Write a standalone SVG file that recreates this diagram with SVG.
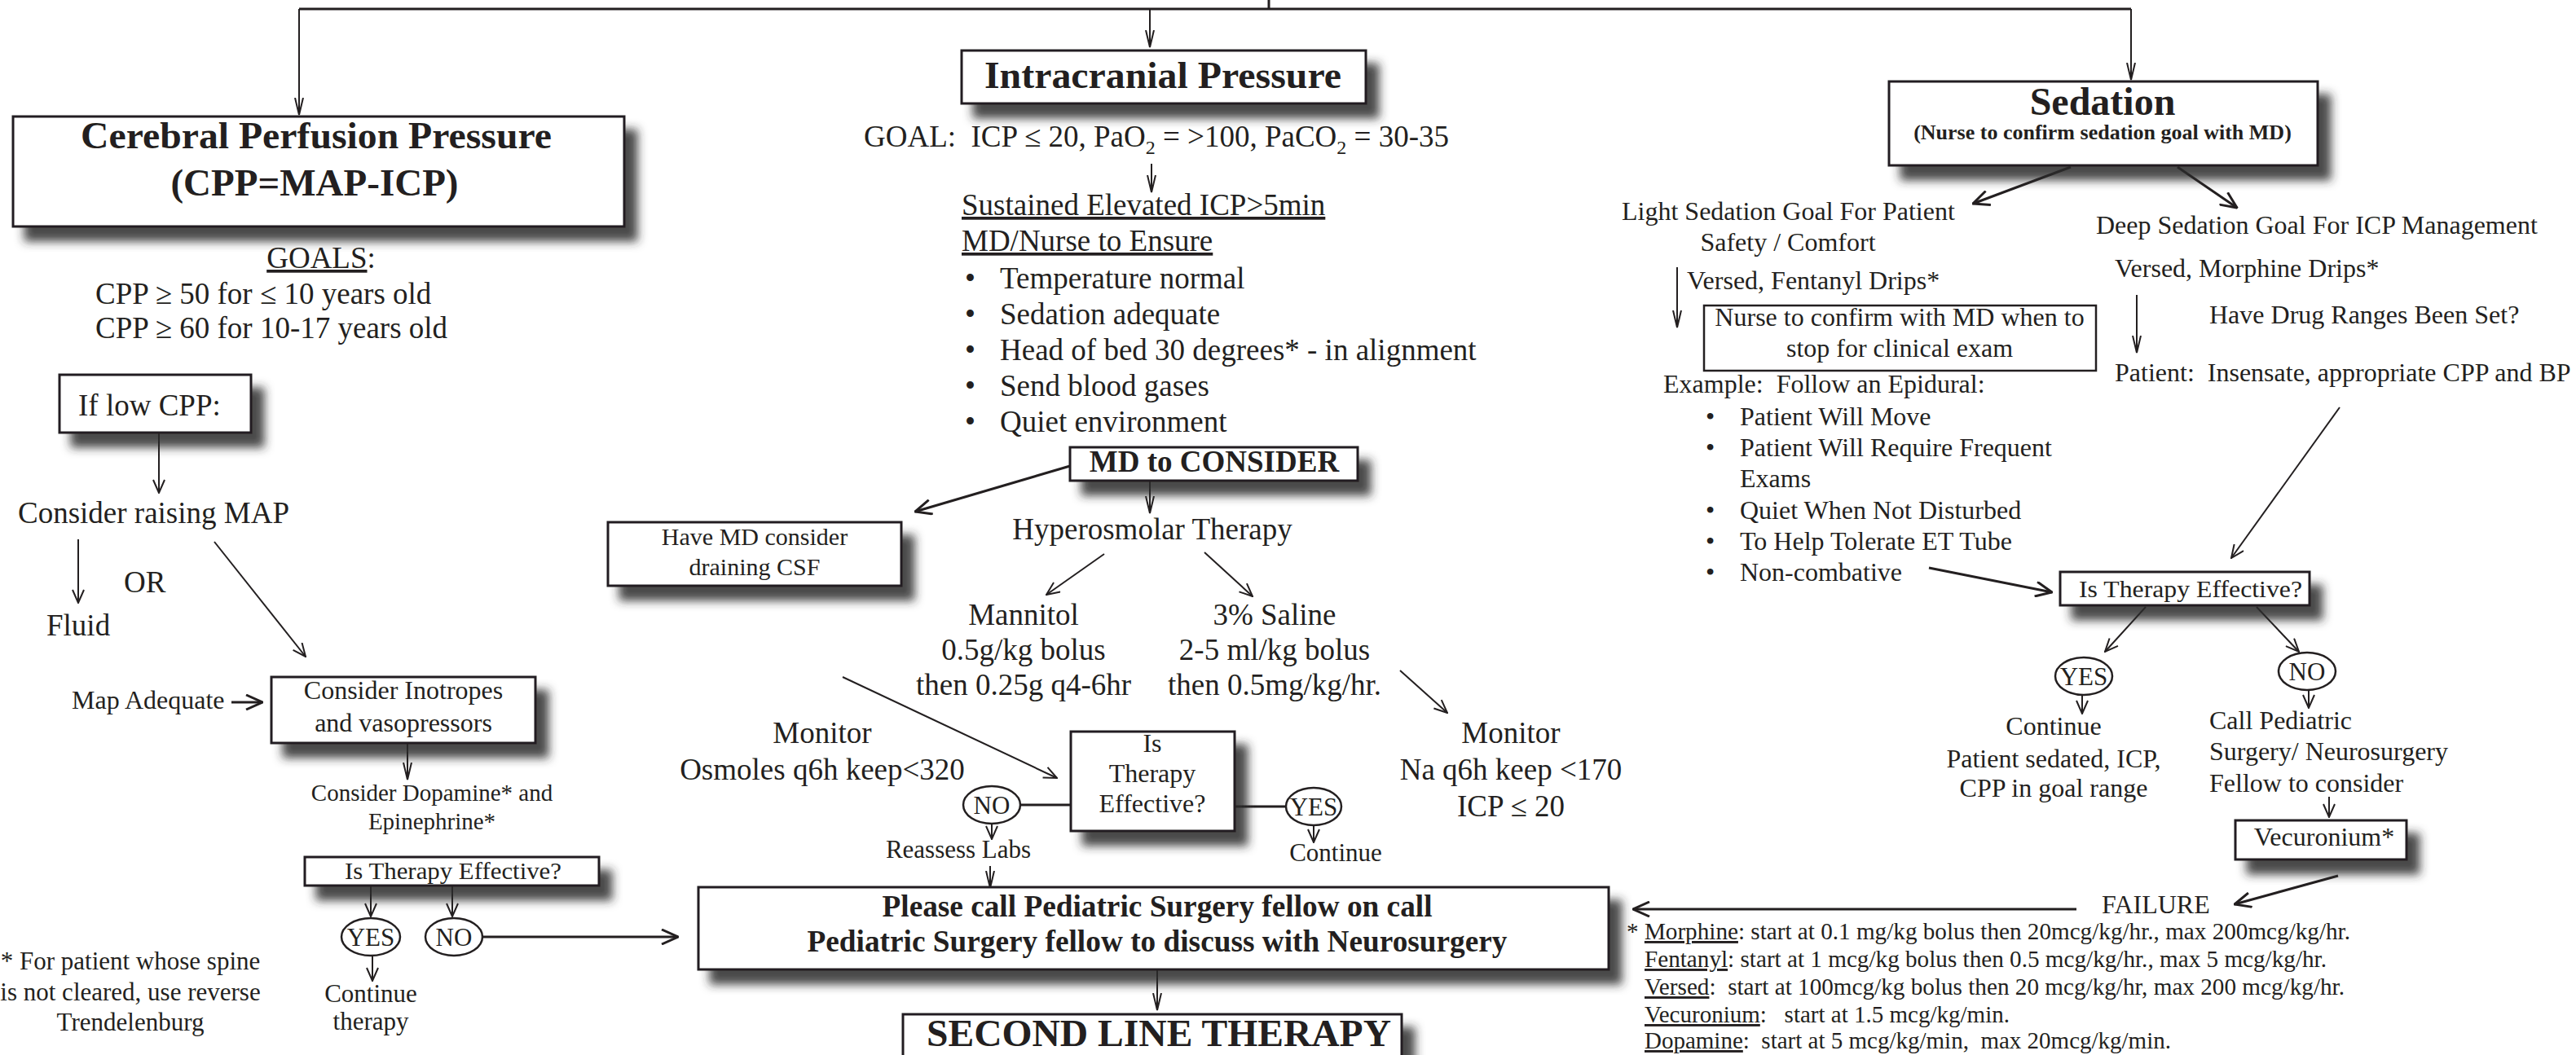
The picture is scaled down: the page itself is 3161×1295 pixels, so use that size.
<svg xmlns="http://www.w3.org/2000/svg" width="3161" height="1295" viewBox="0 0 3161 1295">
<style>
.t{font-family:"Liberation Serif","Times New Roman",serif;fill:#231f20}
.m{text-anchor:middle}
.b{font-weight:bold}
.f26{font-size:26px}.f29{font-size:29px}.f30{font-size:30px}.f31{font-size:31px}.f32{font-size:32px}.f37{font-size:37px}.f47{font-size:47px}.f48{font-size:48px}
.u{text-decoration:underline}
.box{fill:#fff;stroke:#231f20;stroke-width:3}
.bx2{fill:#fff;stroke:#231f20;stroke-width:2.5}
.el{fill:#fff;stroke:#231f20;stroke-width:2.5}
.ln{fill:none;stroke:#231f20;stroke-width:2}
.lnb{fill:none;stroke:#231f20;stroke-width:3}
</style>
<defs>
<filter id="sh" x="-20%" y="-60%" width="160%" height="300%">
<feDropShadow dx="15" dy="17" stdDeviation="6" flood-color="#2b2b2b" flood-opacity="0.85"/>
</filter>
<marker id="an" viewBox="0 0 22 12" refX="21" refY="6" markerWidth="22" markerHeight="12" markerUnits="userSpaceOnUse" orient="auto">
<path d="M0,1 L21,6 L0,11" fill="none" stroke="#231f20" stroke-width="2"/>
</marker>
<marker id="a" viewBox="0 0 18 16" refX="17" refY="8" markerWidth="18" markerHeight="16" markerUnits="userSpaceOnUse" orient="auto">
<path d="M1,1 L17,8 L1,15" fill="none" stroke="#231f20" stroke-width="2"/>
</marker>
<marker id="ab" viewBox="0 0 22 20" refX="21" refY="10" markerWidth="22" markerHeight="20" markerUnits="userSpaceOnUse" orient="auto">
<path d="M1,1 L21,10 L1,19" fill="none" stroke="#231f20" stroke-width="3"/>
</marker>
</defs>
<rect x="0" y="0" width="3161" height="1295" fill="#fff"/>

<g id="top-box">
<rect x="1306" y="-60" width="504" height="52" fill="#fff" filter="url(#sh)"/>
</g>

<g id="connectors">
<path class="lnb" d="M367,11 H2615"/>
<path class="lnb" d="M1557,0 V11"/>
<path class="ln" d="M367,11 V141" marker-end="url(#an)"/>
<path class="ln" d="M1411,11 V58" marker-end="url(#an)"/>
<path class="ln" d="M2615,11 V98" marker-end="url(#an)"/>
<path class="ln" d="M195,531 V605" marker-end="url(#a)"/>
<path class="ln" d="M96,662 V740" marker-end="url(#a)"/>
<path class="ln" d="M263,665 L375,806" marker-end="url(#a)"/>
<path class="lnb" d="M284,862 H322" marker-end="url(#ab)"/>
<path class="ln" d="M500,912 V957" marker-end="url(#an)"/>
<path class="ln" d="M455,1087 V1125" marker-end="url(#a)"/>
<path class="ln" d="M555,1087 V1125" marker-end="url(#a)"/>
<path class="ln" d="M457,1173 V1204" marker-end="url(#a)"/>
<path class="lnb" d="M592,1150 H832" marker-end="url(#ab)"/>
<path class="ln" d="M1413,201 V236" marker-end="url(#an)"/>
<path class="lnb" d="M1313,572 L1123,628" marker-end="url(#ab)"/>
<path class="ln" d="M1411,590 V630" marker-end="url(#an)"/>
<path class="ln" d="M1355,680 L1284,730" marker-end="url(#a)"/>
<path class="ln" d="M1478,678 L1537,732" marker-end="url(#a)"/>
<path class="ln" d="M1034,831 L1297,955" marker-end="url(#a)"/>
<path class="ln" d="M1718,823 L1776,875" marker-end="url(#a)"/>
<path class="lnb" d="M1252,988 H1314"/>
<path class="lnb" d="M1515,990 H1578"/>
<path class="ln" d="M1217,1011 V1030" marker-end="url(#a)"/>
<path class="ln" d="M1612,1013 V1034" marker-end="url(#a)"/>
<path class="ln" d="M1215,1063 V1090" marker-end="url(#an)"/>
<path class="ln" d="M1420,1190 V1240" marker-end="url(#an)"/>
<path class="lnb" d="M2541,205 L2421,250" marker-end="url(#ab)"/>
<path class="lnb" d="M2672,205 L2745,255" marker-end="url(#ab)"/>
<path class="ln" d="M2058,328 V402" marker-end="url(#an)"/>
<path class="ln" d="M2622,362 V433" marker-end="url(#an)"/>
<path class="ln" d="M2871,500 L2738,685" marker-end="url(#a)"/>
<path class="lnb" d="M2367,697 L2518,727" marker-end="url(#ab)"/>
<path class="ln" d="M2633,745 L2583,800" marker-end="url(#a)"/>
<path class="ln" d="M2769,745 L2821,800" marker-end="url(#a)"/>
<path class="ln" d="M2555,853 V876" marker-end="url(#a)"/>
<path class="ln" d="M2833,847 V869" marker-end="url(#a)"/>
<path class="ln" d="M2858,978 V1003" marker-end="url(#a)"/>
<path class="lnb" d="M2869,1075 L2742,1110" marker-end="url(#ab)"/>
<path class="lnb" d="M2548,1116 L2004,1116" marker-end="url(#ab)"/>
</g>

<g id="cpp">
<rect class="box" x="16" y="143" width="750" height="135" filter="url(#sh)"/>
<text class="t b f47 m" x="388" y="182" textLength="578" lengthAdjust="spacingAndGlyphs">Cerebral Perfusion Pressure</text>
<text class="t b f47 m" x="386" y="240">(CPP=MAP-ICP)</text>
</g>
<g id="cpp-goals">
<text class="t f37 m" x="394" y="329"><tspan class="u">GOALS</tspan>:</text>
<text class="t f37" x="117" y="373">CPP ≥ 50 for ≤ 10 years old</text>
<text class="t f37" x="117" y="415">CPP ≥ 60 for 10-17 years old</text>
</g>
<g id="low-cpp">
<rect class="box" x="73" y="460" width="235" height="71" filter="url(#sh)"/>
<text class="t f37" x="96" y="510">If low CPP:</text>
</g>
<g id="raise-map"><text class="t f37" x="22" y="642">Consider raising MAP</text></g>
<g id="or"><text class="t f37" x="152" y="727">OR</text></g>
<g id="fluid"><text class="t f37" x="57" y="780">Fluid</text></g>
<g id="map-adequate"><text class="t f32" x="88" y="870">Map Adequate</text></g>
<g id="inotropes">
<rect class="box" x="333" y="831" width="324" height="81" filter="url(#sh)"/>
<text class="t f32 m" x="495" y="858">Consider Inotropes</text>
<text class="t f32 m" x="495" y="898">and vasopressors</text>
</g>
<g id="dopamine">
<text class="t f29 m" x="530" y="983">Consider Dopamine* and</text>
<text class="t f29 m" x="530" y="1018">Epinephrine*</text>
</g>
<g id="effective-left">
<rect class="box" x="374" y="1052" width="361" height="35" filter="url(#sh)"/>
<text class="t f30 m" x="556" y="1079" textLength="266" lengthAdjust="spacingAndGlyphs">Is Therapy Effective?</text>
</g>
<g id="yes-left">
<ellipse class="el" cx="455" cy="1150" rx="36" ry="23"/>
<text class="t f31 m" x="455" y="1161">YES</text>
</g>
<g id="no-left">
<ellipse class="el" cx="557" cy="1150" rx="35" ry="23"/>
<text class="t f31 m" x="557" y="1161">NO</text>
</g>
<g id="continue-left">
<text class="t f31 m" x="455" y="1230">Continue</text>
<text class="t f31 m" x="455" y="1264">therapy</text>
</g>
<g id="footnote-left">
<text class="t f31 m" x="160" y="1190">* For patient whose spine</text>
<text class="t f31 m" x="160" y="1228">is not cleared, use reverse</text>
<text class="t f31 m" x="160" y="1265">Trendelenburg</text>
</g>

<g id="icp">
<rect class="box" x="1180" y="62" width="496" height="65" filter="url(#sh)"/>
<text class="t b f47 m" x="1427" y="108" textLength="438" lengthAdjust="spacingAndGlyphs">Intracranial Pressure</text>
</g>
<g id="icp-goal">
<text class="t f37" x="1060" y="180" xml:space="preserve" textLength="718" lengthAdjust="spacingAndGlyphs">GOAL:  ICP ≤ 20, PaO<tspan dy="9" font-size="24">2</tspan><tspan dy="-9"> = &gt;100, PaCO</tspan><tspan dy="9" font-size="24">2</tspan><tspan dy="-9"> = 30-35</tspan></text>
</g>
<g id="ensure">
<text class="t f37 u" x="1180" y="264">Sustained Elevated ICP&gt;5min</text>
<text class="t f37 u" x="1180" y="308">MD/Nurse to Ensure</text>
<text class="t f37" x="1184" y="354">•</text><text class="t f37" x="1227" y="354">Temperature normal</text>
<text class="t f37" x="1184" y="398">•</text><text class="t f37" x="1227" y="398">Sedation adequate</text>
<text class="t f37" x="1184" y="442">•</text><text class="t f37" x="1227" y="442">Head of bed 30 degrees* - in alignment</text>
<text class="t f37" x="1184" y="486">•</text><text class="t f37" x="1227" y="486">Send blood gases</text>
<text class="t f37" x="1184" y="530">•</text><text class="t f37" x="1227" y="530">Quiet environment</text>
</g>
<g id="md-consider">
<rect class="box" x="1313" y="549" width="353" height="41" filter="url(#sh)"/>
<text class="t b f37 m" x="1490" y="579">MD to CONSIDER</text>
</g>
<g id="csf">
<rect class="box" x="746" y="641" width="360" height="78" filter="url(#sh)"/>
<text class="t f30 m" x="926" y="669">Have MD consider</text>
<text class="t f30 m" x="926" y="706">draining CSF</text>
</g>
<g id="hyperosmolar"><text class="t f37 m" x="1414" y="662">Hyperosmolar Therapy</text></g>
<g id="mannitol">
<text class="t f37 m" x="1256" y="767">Mannitol</text>
<text class="t f37 m" x="1256" y="810">0.5g/kg bolus</text>
<text class="t f37 m" x="1256" y="853">then 0.25g q4-6hr</text>
</g>
<g id="saline">
<text class="t f37 m" x="1564" y="767">3% Saline</text>
<text class="t f37 m" x="1564" y="810">2-5 ml/kg bolus</text>
<text class="t f37 m" x="1564" y="853">then 0.5mg/kg/hr.</text>
</g>
<g id="monitor-osm">
<text class="t f37 m" x="1009" y="912">Monitor</text>
<text class="t f37 m" x="1009" y="957">Osmoles q6h keep&lt;320</text>
</g>
<g id="monitor-na">
<text class="t f37 m" x="1854" y="912">Monitor</text>
<text class="t f37 m" x="1854" y="957">Na q6h keep &lt;170</text>
<text class="t f37 m" x="1854" y="1002">ICP ≤ 20</text>
</g>
<g id="effective-mid">
<rect class="box" x="1314" y="898" width="201" height="122" filter="url(#sh)"/>
<text class="t f32 m" x="1414" y="923">Is</text>
<text class="t f32 m" x="1414" y="960">Therapy</text>
<text class="t f32 m" x="1414" y="997">Effective?</text>
</g>
<g id="no-mid">
<ellipse class="el" cx="1217" cy="988" rx="35" ry="23"/>
<text class="t f31 m" x="1217" y="999">NO</text>
</g>
<g id="yes-mid">
<ellipse class="el" cx="1612" cy="990" rx="34" ry="23"/>
<text class="t f31 m" x="1612" y="1001">YES</text>
</g>
<g id="reassess"><text class="t f31 m" x="1176" y="1053">Reassess Labs</text></g>
<g id="continue-mid"><text class="t f31 m" x="1639" y="1057">Continue</text></g>
<g id="call-fellow">
<rect class="box" x="857" y="1089" width="1117" height="101" filter="url(#sh)"/>
<text class="t b f37 m" x="1420" y="1125" textLength="675" lengthAdjust="spacingAndGlyphs">Please call Pediatric Surgery fellow on call</text>
<text class="t b f37 m" x="1420" y="1168" textLength="859" lengthAdjust="spacingAndGlyphs">Pediatric Surgery fellow to discuss with Neurosurgery</text>
</g>
<g id="second-line">
<rect class="box" x="1108" y="1245" width="612" height="80" filter="url(#sh)"/>
<text class="t b f47 m" x="1422" y="1284" textLength="570" lengthAdjust="spacingAndGlyphs">SECOND LINE THERAPY</text>
</g>

<g id="sedation">
<rect class="box" x="2318" y="100" width="526" height="103" filter="url(#sh)"/>
<text class="t b f48 m" x="2580" y="141">Sedation</text>
<text class="t b f26 m" x="2580" y="171">(Nurse to confirm sedation goal with MD)</text>
</g>
<g id="light-sedation">
<text class="t f32" x="1990" y="270">Light Sedation Goal For Patient</text>
<text class="t f32 m" x="2194" y="308">Safety / Comfort</text>
<text class="t f32" x="2070" y="355">Versed, Fentanyl Drips*</text>
</g>
<g id="nurse-confirm">
<rect class="bx2" x="2091" y="375" width="481" height="80"/>
<text class="t f32 m" x="2331" y="400">Nurse to confirm with MD when to</text>
<text class="t f32 m" x="2331" y="438">stop for clinical exam</text>
</g>
<g id="epidural">
<text class="t f32" x="2041" y="482" xml:space="preserve">Example:  Follow an Epidural:</text>
<text class="t f32" x="2093" y="522">•</text><text class="t f32" x="2135" y="522">Patient Will Move</text>
<text class="t f32" x="2093" y="560">•</text><text class="t f32" x="2135" y="560">Patient Will Require Frequent</text>
<text class="t f32" x="2135" y="598">Exams</text>
<text class="t f32" x="2093" y="637">•</text><text class="t f32" x="2135" y="637">Quiet When Not Disturbed</text>
<text class="t f32" x="2093" y="675">•</text><text class="t f32" x="2135" y="675">To Help Tolerate ET Tube</text>
<text class="t f32" x="2093" y="713">•</text><text class="t f32" x="2135" y="713">Non-combative</text>
</g>
<g id="deep-sedation">
<text class="t f32" x="2572" y="287">Deep Sedation Goal For ICP Management</text>
<text class="t f32" x="2595" y="340">Versed, Morphine Drips*</text>
<text class="t f32" x="2711" y="397">Have Drug Ranges Been Set?</text>
<text class="t f32" x="2595" y="468" xml:space="preserve">Patient:  Insensate, appropriate CPP and BP</text>
</g>
<g id="effective-right">
<rect class="box" x="2528" y="702" width="306" height="41" filter="url(#sh)"/>
<text class="t f30 m" x="2688" y="733" textLength="274" lengthAdjust="spacingAndGlyphs">Is Therapy Effective?</text>
</g>
<g id="yes-right">
<ellipse class="el" cx="2557" cy="830" rx="35" ry="23"/>
<text class="t f31 m" x="2557" y="841">YES</text>
</g>
<g id="no-right">
<ellipse class="el" cx="2831" cy="824" rx="35" ry="23"/>
<text class="t f31 m" x="2831" y="835">NO</text>
</g>
<g id="continue-right">
<text class="t f32 m" x="2520" y="902">Continue</text>
<text class="t f32 m" x="2520" y="942">Patient sedated, ICP,</text>
<text class="t f32 m" x="2520" y="978">CPP in goal range</text>
</g>
<g id="call-pediatric">
<text class="t f32" x="2711" y="895">Call Pediatric</text>
<text class="t f32" x="2711" y="933">Surgery/ Neurosurgery</text>
<text class="t f32" x="2711" y="972">Fellow to consider</text>
</g>
<g id="vecuronium">
<rect class="box" x="2743" y="1007" width="210" height="48" filter="url(#sh)"/>
<text class="t f32 m" x="2852" y="1038">Vecuronium*</text>
</g>
<g id="failure"><text class="t f32" x="2579" y="1121">FAILURE</text></g>
<g id="drug-notes">
<text class="t f29" x="1996" y="1153" textLength="888" lengthAdjust="spacingAndGlyphs">* <tspan class="u">Morphine</tspan>: start at 0.1 mg/kg bolus then 20mcg/kg/hr., max 200mcg/kg/hr.</text>
<text class="t f29" x="2018" y="1187" textLength="837" lengthAdjust="spacingAndGlyphs"><tspan class="u">Fentanyl</tspan>: start at 1 mcg/kg bolus then 0.5 mcg/kg/hr., max 5 mcg/kg/hr.</text>
<text class="t f29" x="2018" y="1221" xml:space="preserve" textLength="859" lengthAdjust="spacingAndGlyphs"><tspan class="u">Versed</tspan>:  start at 100mcg/kg bolus then 20 mcg/kg/hr, max 200 mcg/kg/hr.</text>
<text class="t f29" x="2018" y="1255" xml:space="preserve" textLength="448" lengthAdjust="spacingAndGlyphs"><tspan class="u">Vecuronium</tspan>:   start at 1.5 mcg/kg/min.</text>
<text class="t f29" x="2018" y="1287" xml:space="preserve" textLength="646" lengthAdjust="spacingAndGlyphs"><tspan class="u">Dopamine</tspan>:  start at 5 mcg/kg/min,  max 20mcg/kg/min.</text>
</g>
</svg>
